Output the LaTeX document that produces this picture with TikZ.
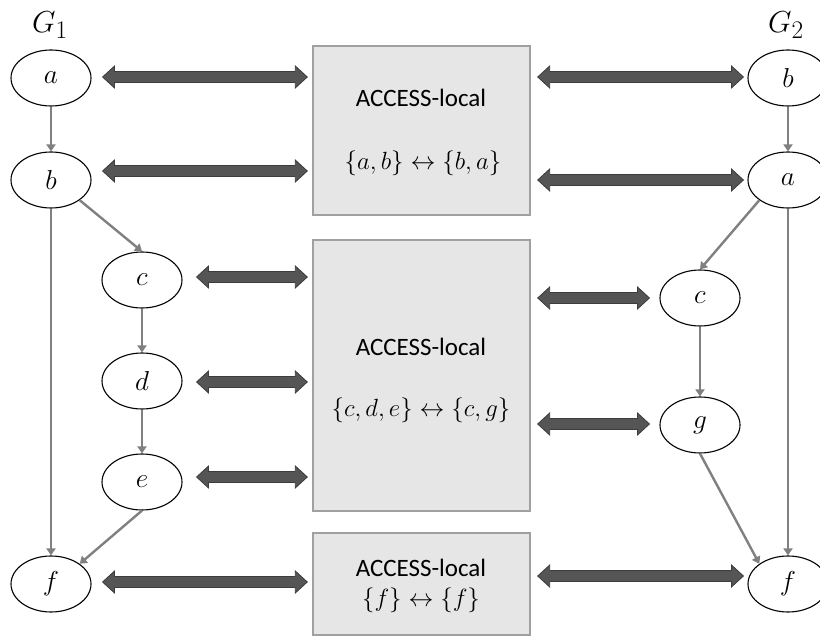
\RequirePackage{fix-cm}
\documentclass[tikz,border=0pt]{standalone}
\usepackage{fontspec}
\setmainfont{Carlito}
\usetikzlibrary{arrows.meta,calc,shapes.geometric}

\definecolor{edgegray}{RGB}{128,128,128}
\definecolor{blockfill}{RGB}{85,85,85}
\definecolor{blockline}{RGB}{60,60,60}
\definecolor{boxfill}{RGB}{230,230,230}
\definecolor{boxline}{RGB}{160,160,160}

% math set at a given magnification
\newcommand{\magmath}[2]{\scalebox{#1}{$#2$}}

\begin{document}
\begin{tikzpicture}[x=1pt,y=-1pt,
  gnode/.style={ellipse,draw=black,line width=1.1pt,fill=white,
    minimum width=80pt,minimum height=56pt,inner sep=0pt,
    font=\fontsize{24.88}{28}\selectfont},
  accbox/.style={rectangle,draw=boxline,fill=boxfill,line width=1.4pt,inner sep=0pt},
  boxtitle/.style={inner sep=0pt,font=\fontsize{25}{30}\selectfont},
  boxmath/.style={inner sep=0pt,font=\fontsize{24.88}{28}\selectfont},
  glabel/.style={inner sep=0pt,font=\fontsize{24.88}{28}\selectfont},
  flowedge/.style={draw=edgegray,line width=2.4pt,
    -{Triangle[length=7pt,width=9pt]}},
  blockarrow/.style={draw=blockline,fill=blockfill,line width=0.8pt,line join=miter,
    to path={let \p1=(\tikztostart),\p2=(\tikztotarget) in
      (\x1,\y1) -- (\x1+12pt,\y1+11pt) -- (\x1+12pt,\y1+5.5pt)
      -- (\x2-12pt,\y1+5.5pt) -- (\x2-12pt,\y1+11pt) -- (\x2,\y1)
      -- (\x2-12pt,\y1-11pt) -- (\x2-12pt,\y1-5.5pt)
      -- (\x1+12pt,\y1-5.5pt) -- (\x1+12pt,\y1-11pt) -- cycle}}
]
\useasboundingbox (0,0) rectangle (820,636);
\clip (0,0) rectangle (820,636);

% graph labels
\node[glabel] (g1) at (50,25) {\magmath{1.22}{G_1}};
\node[glabel] (g2) at (786,25) {\magmath{1.22}{G_2}};

% ACCESS-local boxes
\node[accbox,minimum width=217pt,minimum height=169pt] (box1) at (421.5,130.5) {};
\node[accbox,minimum width=217pt,minimum height=271pt] (box2) at (421.5,375.5) {};
\node[accbox,minimum width=217pt,minimum height=102pt] (box3) at (421.5,584) {};

\node[boxtitle] (t1) at (421,98) {ACCESS-local};
\node[boxmath] (m1) at (423,163) {$\{a,b\}\leftrightarrow\{b,a\}$};
\node[boxtitle] (t2) at (421,347) {ACCESS-local};
\node[boxmath] (m2) at (421,410) {$\{c,d,e\}\leftrightarrow\{c,g\}$};
\node[boxtitle] (t3) at (421,568) {ACCESS-local};
\node[boxmath] (m3) at (421,600) {$\{f\}\leftrightarrow\{f\}$};

% left graph
\node[gnode] (la) at (51,78) {\magmath{1.1}{a}};
\node[gnode] (lb) at (51,180) {\magmath{1.1}{b}};
\node[gnode] (lc) at (142,280) {\magmath{1.1}{c}};
\node[gnode] (ld) at (142,381) {\magmath{1.1}{d}};
\node[gnode] (le) at (142,482) {\magmath{1.1}{e}};
\node[gnode] (lf) at (51,584) {\magmath{1.1}{f}};

% right graph
\node[gnode] (rb) at (788,78) {\magmath{1.1}{b}};
\node[gnode] (ra) at (788,180) {\magmath{1.1}{a}};
\node[gnode] (rc) at (700,298) {\magmath{1.1}{c}};
\node[gnode] (rg) at (700,425) {\magmath{1.1}{g}};
\node[gnode] (rf) at (788,584) {\magmath{1.1}{f}};

% edges of the left graph
\draw[flowedge] (la.south) -- (lb.north);
\draw[flowedge] (lb.south east) -- (lc.north);
\draw[flowedge] (lb.south) -- (lf.north);
\draw[flowedge] (lc.south) -- (ld.north);
\draw[flowedge] (ld.south) -- (le.north);
\draw[flowedge] (le.south) -- (lf.north east);

% edges of the right graph
\draw[flowedge] (rb.south) -- (ra.north);
\draw[flowedge] (ra.south west) -- (rc.north);
\draw[flowedge] (ra.south) -- (rf.north);
\draw[flowedge] (rc.south) -- (rg.north);
\draw[flowedge] (rg.south) -- (rf.north west);

% correspondences, left side
\draw[blockarrow] ($(la.east)+(11,-1)$) to ($(box1.west|-la)+(-5,-1)$);
\draw[blockarrow] ($(lb.east)+(11,-9)$) to ($(box1.west|-lb)+(-5,-9)$);
\draw[blockarrow] ($(lc.east)+(14,-3)$) to ($(box2.west|-lc)+(-5,-3)$);
\draw[blockarrow] ($(ld.east)+(14,1)$) to ($(box2.west|-ld)+(-5,1)$);
\draw[blockarrow] ($(le.east)+(14,-5)$) to ($(box2.west|-le)+(-5,-5)$);
\draw[blockarrow] ($(lf.east)+(11,-2)$) to ($(box3.west|-lf)+(-5,-2)$);

% correspondences, right side
\draw[blockarrow] ($(box1.east|-rb)+(7,-1)$) to ($(rb.west)+(-4,-1)$);
\draw[blockarrow] ($(box1.east|-ra)+(7,0)$) to ($(ra.west)+(-4,0)$);
\draw[blockarrow] ($(box2.east|-rc)+(7,0)$) to ($(rc.west)+(-10,0)$);
\draw[blockarrow] ($(box2.east|-rg)+(7,-1)$) to ($(rg.west)+(-10,-1)$);
\draw[blockarrow] ($(box3.east|-rf)+(7,-8)$) to ($(rf.west)+(-4,-8)$);
\end{tikzpicture}
\end{document}
